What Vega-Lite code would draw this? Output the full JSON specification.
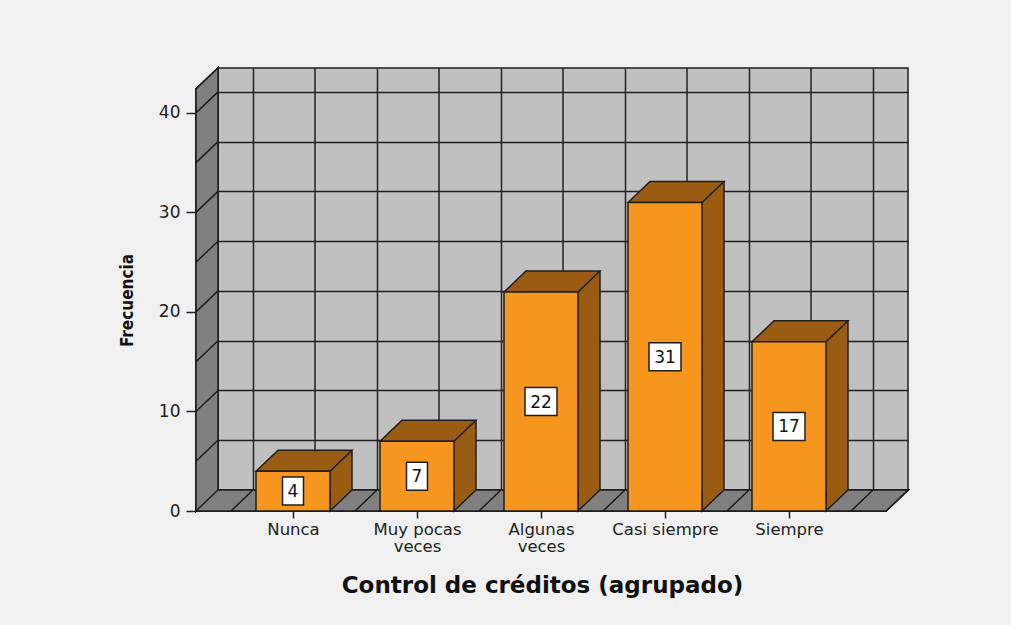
{
  "$schema": "https://vega.github.io/schema/vega-lite/v6.json",
  "width": 690,
  "height": 422,
  "autosize": {"type": "none"},
  "padding": {"left": 218, "top": 68, "right": 103, "bottom": 135},
  "background": "#f0f0f0",
  "config": {
    "view": {"fill": "#c0c0c0", "stroke": "#1e1e1e", "strokeWidth": 1.5}
  },
  "data": {
    "values": [
      {"Control": "Nunca", "Frecuencia": 4},
      {"Control": "Muy pocas veces", "Frecuencia": 7},
      {"Control": "Algunas veces", "Frecuencia": 22},
      {"Control": "Casi siempre", "Frecuencia": 31},
      {"Control": "Siempre", "Frecuencia": 17}
    ]
  },
  "layer": [
    {
      "layer": [
        {
          "mark": {"type": "rule", "color": "#222222", "strokeWidth": 1.5},
          "encoding": {
            "x": {
              "field": "Control", "type": "nominal", "sort": null,
              "scale": {"type": "band", "domain": ["Nunca", "Muy pocas veces", "Algunas veces", "Casi siempre", "Siempre"], "paddingInner": 0, "paddingOuter": 0.2823},
              "axis": {"grid": true, "tickBand": "extent", "labels": false, "ticks": false, "domain": false, "title": null, "gridColor": "#222222", "gridWidth": 1.5, "gridOpacity": 1}
            },
            "y": {"value": 0},
            "y2": {"value": "height"}
          }
        },
        {
          "mark": {
            "type": "point",
            "shape": "M-97,0 L593,0 L571,21 L-119,21 Z M-97,0 L-97,-422 L-119,-401 L-119,21 Z M-62,0 L-84,21 M0,0 L-22,21 M62,0 L40,21 M124,0 L102,21 M186,0 L164,21 M248,0 L226,21 M310,0 L288,21 M372,0 L350,21 M434,0 L412,21 M496,0 L474,21 M558,0 L536,21 M-97,-49.8 L-119,-28.8 M-97,-99.5 L-119,-78.5 M-97,-149.3 L-119,-128.3 M-97,-199.1 L-119,-178.1 M-97,-248.8 L-119,-227.8 M-97,-298.6 L-119,-277.6 M-97,-348.4 L-119,-327.4 M-97,-398.1 L-119,-377.1",
            "size": 4, "filled": true, "fill": "#808080", "stroke": "#1e1e1e", "strokeWidth": 1.5, "opacity": 1
          },
          "encoding": {
            "x": {"datum": "Nunca", "axis": null},
            "y": {
              "datum": 0, "type": "quantitative",
              "scale": {"domain": [0, 42.4], "nice": false, "zero": true},
              "axis": {"grid": true, "values": [0, 5, 10, 15, 20, 25, 30, 35, 40], "labels": false, "ticks": false, "domain": false, "title": null, "gridColor": "#222222", "gridWidth": 1.5, "gridOpacity": 1}
            }
          }
        },
        {
          "mark": {"type": "bar", "width": 22, "xOffset": 26, "fill": "#9a5b13"},
          "encoding": {
            "x": {"field": "Control", "type": "nominal", "sort": null, "axis": null},
            "y": {"field": "Frecuencia", "type": "quantitative", "axis": null},
            "y2": {"datum": 0}
          }
        },
        {
          "mark": {"type": "point", "shape": "M-59,21 L-37,0 L37,0 L15,21 Z", "size": 4, "filled": true, "fill": "#9a5b13", "stroke": "#1e1e1e", "strokeWidth": 1.5, "opacity": 1},
          "encoding": {
            "x": {"field": "Control", "type": "nominal", "sort": null, "axis": null},
            "y": {"field": "Frecuencia", "type": "quantitative", "axis": null}
          }
        },
        {
          "mark": {"type": "point", "shape": "M15,0 L15,21 L37,0", "size": 4, "filled": true, "fill": "#9a5b13", "stroke": "#1e1e1e", "strokeWidth": 1.5, "opacity": 1},
          "encoding": {
            "x": {"field": "Control", "type": "nominal", "sort": null, "axis": null},
            "y": {"datum": 0, "type": "quantitative", "axis": null}
          }
        },
        {
          "mark": {"type": "rule", "xOffset": 37, "color": "#1e1e1e", "strokeWidth": 1.5},
          "encoding": {
            "x": {"field": "Control", "type": "nominal", "sort": null, "axis": null},
            "y": {"field": "Frecuencia", "type": "quantitative", "axis": null},
            "y2": {"datum": 0}
          }
        },
        {
          "mark": {"type": "bar", "width": 74, "xOffset": -22, "yOffset": 21, "y2Offset": 21, "fill": "#f7961e", "stroke": "#1e1e1e", "strokeWidth": 1.5},
          "encoding": {
            "x": {
              "field": "Control", "type": "nominal", "sort": null,
              "axis": {
                "orient": "bottom", "offset": 21, "tickOffset": -22, "grid": false, "domain": false,
                "ticks": true, "tickSize": 7, "tickColor": "#222222", "tickWidth": 1.5,
                "labelFont": "DejaVu Sans", "labelFontSize": 16.5, "labelColor": "#222222", "labelPadding": 3,
                "labelLineHeight": 17.5, "labelAngle": 0,
                "labelExpr": "datum.label == 'Muy pocas veces' ? ['Muy pocas', 'veces'] : datum.label == 'Algunas veces' ? ['Algunas', 'veces'] : datum.label",
                "title": "Control de créditos (agrupado)", "titleFont": "DejaVu Sans", "titleFontWeight": "bold",
                "titleFontSize": 23, "titleColor": "#111111", "titleX": 324, "titleY": 74, "titleBaseline": "middle"
              }
            },
            "y": {
              "field": "Frecuencia", "type": "quantitative",
              "axis": {
                "orient": "left", "offset": 22, "tickOffset": 21, "values": [0, 10, 20, 30, 40],
                "grid": false, "domain": false, "tickSize": 10, "tickColor": "#222222", "tickWidth": 1.5,
                "labelFont": "DejaVu Sans", "labelFontSize": 17, "labelColor": "#222222", "labelPadding": 6,
                "title": "Frecuencia", "titleFont": "DejaVu Sans Condensed, DejaVu Sans, sans-serif", "titleFontWeight": "bold",
                "titleFontSize": 17, "titleColor": "#111111", "titleX": -69, "titleY": 232, "titleBaseline": "middle"
              }
            },
            "y2": {"datum": 0}
          }
        }
      ],
      "resolve": {"axis": {"x": "independent", "y": "independent"}}
    },
    {
      "encoding": {
        "x": {"field": "Control", "type": "nominal", "sort": null, "axis": null},
        "y": {"field": "Frecuencia", "type": "quantitative", "scale": {"domain": [0, 84.8], "nice": false}, "axis": null}
      },
      "layer": [
        {
          "mark": {"type": "point", "size": 4, "filled": true, "fill": "white", "stroke": "#1e1e1e", "strokeWidth": 1.5, "opacity": 1, "xOffset": -22, "yOffset": 21},
          "encoding": {
            "shape": {
              "condition": {"test": "datum['Frecuencia'] < 10", "value": "M-10.5,-14 L10.5,-14 L10.5,14 L-10.5,14 Z"},
              "value": "M-16,-14 L16,-14 L16,14 L-16,14 Z"
            }
          }
        },
        {
          "mark": {"type": "text", "font": "DejaVu Sans", "fontSize": 17, "color": "#111111", "align": "center", "baseline": "middle", "xOffset": -22, "yOffset": 22},
          "encoding": {
            "text": {"field": "Frecuencia", "type": "quantitative"}
          }
        }
      ]
    }
  ],
  "resolve": {"scale": {"y": "independent"}, "axis": {"x": "independent", "y": "independent"}}
}
